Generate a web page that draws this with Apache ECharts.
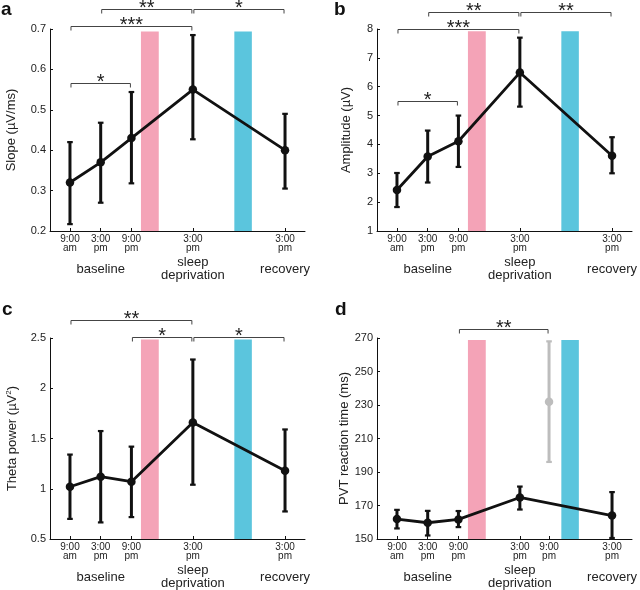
<!DOCTYPE html>
<html><head><meta charset="utf-8">
<script src="https://cdn.jsdelivr.net/npm/echarts@6/dist/echarts.min.js"></script>
<style>html,body{margin:0;padding:0;background:#fff}#c{width:640px;height:590px}</style>
</head><body><div id="c"></div>
<script>
// ---- data ----
const positions = [1, 2, 3, 5, 8];
const tickLabels = ['9:00\nam', '3:00\npm', '9:00\npm', '3:00\npm', '3:00\npm'];
const tickPosD = [1, 2, 3, 5, 5.95, 8];
const tickLabelsD = ['9:00\nam', '3:00\npm', '9:00\npm', '3:00\npm', '9:00\npm', '3:00\npm'];
const groupPos = [2, 5, 8];
const groupLabels = ['baseline', 'sleep\ndeprivation', 'recovery'];
const pinkBand = [3.31, 3.89];
const cyanBand = [6.35, 6.92];

const slopeMean = [0.32, 0.37, 0.43, 0.55, 0.40];
const slopeLow  = [0.217, 0.27, 0.318, 0.427, 0.305];
const slopeHigh = [0.42, 0.468, 0.544, 0.685, 0.49];

const ampMean = [2.42, 3.58, 4.11, 6.49, 3.61];
const ampLow  = [1.83, 2.68, 3.22, 5.31, 3.0];
const ampHigh = [3.01, 4.48, 5.0, 7.70, 4.25];

const thetaMean = [1.02, 1.12, 1.07, 1.66, 1.18];
const thetaLow  = [0.70, 0.665, 0.718, 1.04, 0.774];
const thetaHigh = [1.34, 1.574, 1.419, 2.286, 1.59];

const pvtMean = [161.9, 159.7, 161.7, 174.8, 164.0];
const pvtLow  = [156.3, 152.1, 157.1, 167.6, 150.6];
const pvtHigh = [167.4, 166.8, 166.7, 181.3, 178.0];
const pvtGrayPos = [5.95];
const pvtGrayMean = [231.9];
const pvtGrayLow  = [196.0];
const pvtGrayHigh = [268.0];

// brackets: [x1, x2, y, stars]
const bracketsA = [[2, 5, 0.75, '**'], [5, 8, 0.75, '*'], [1, 5, 0.7085, '***'], [1, 3, 0.566, '*']];
const bracketsB = [[2, 5, 8.58, '**'], [5, 8, 8.58, '**'], [1, 5, 7.99, '***'], [1, 3, 5.5, '*']];
const bracketsC = [[1, 5, 2.683, '**'], [3, 5, 2.51, '*'], [5, 8, 2.51, '*']];
const bracketsD = [[3, 5.95, 275.2, '**']];

const bandTops = [0.694, 7.92, 2.484, 268.8];

// ---- chart ----
const FONT = 'Liberation Sans, Arial, sans-serif';
const TXT = '#222';
const chart = echarts.init(document.getElementById('c'));

const grids = [
  {left: 50, top: 29, width: 255, height: 202},
  {left: 377, top: 29, width: 255, height: 202},
  {left: 50, top: 338, width: 255, height: 201},
  {left: 377, top: 338, width: 255, height: 201}
];
const yCfg = [
  {min: 0.2, max: 0.7, interval: 0.1, name: 'Slope (µV/ms)', gap: 32},
  {min: 1, max: 8, interval: 1, name: 'Amplitude (µV)', gap: 24},
  {min: 0.5, max: 2.5, interval: 0.5, name: 'Theta power (µV{sup|2})', gap: 31},
  {min: 150, max: 270, interval: 20, name: 'PVT reaction time (ms)', gap: 26}
];

const xAxes = [], yAxes = [], series = [];
for (let i = 0; i < 4; i++) {
  const tp = i === 3 ? tickPosD : positions;
  const tl = i === 3 ? tickLabelsD : tickLabels;
  xAxes.push({
    gridIndex: i, type: 'value', min: 0.35, max: 8.65, position: 'bottom',
    axisLine: {onZero: false, lineStyle: {color: '#111', width: 1}},
    axisTick: {inside: true, length: 3, customValues: tp, lineStyle: {color: '#111'}},
    axisLabel: {customValues: tp, formatter: v => tl[tp.indexOf(v)], fontSize: 10, lineHeight: 9,
      color: TXT, margin: 4, fontFamily: FONT},
    splitLine: {show: false}
  });
  xAxes.push({
    gridIndex: i, type: 'value', min: 0.35, max: 8.65, position: 'bottom',
    axisLine: {show: false, onZero: false}, axisTick: {show: false}, splitLine: {show: false},
    axisLabel: {customValues: groupPos, formatter: v => groupLabels[groupPos.indexOf(v)],
      fontSize: 13, lineHeight: 13, verticalAlign: 'middle', margin: 38, color: TXT, fontFamily: FONT}
  });
  const yc = yCfg[i];
  yAxes.push({
    gridIndex: i, type: 'value', min: yc.min, max: yc.max, interval: yc.interval,
    axisLine: {show: true, onZero: false, lineStyle: {color: '#111', width: 1}},
    axisTick: {show: true, inside: true, length: 3, lineStyle: {color: '#111'}},
    axisLabel: {fontSize: 11, color: TXT, margin: 4, fontFamily: FONT},
    splitLine: {show: false},
    name: yc.name, nameLocation: 'middle', nameGap: yc.gap,
    nameTextStyle: {fontSize: 13, color: TXT, fontFamily: FONT,
      rich: {sup: {fontSize: 8, verticalAlign: 'top', padding: [0, 0, 6, 0], color: TXT, fontFamily: FONT}}}
  });
}

function bandSeries(i) {
  const yMin = yCfg[i].min;
  const data = [[pinkBand[0], pinkBand[1], yMin, bandTops[i], 0], [cyanBand[0], cyanBand[1], yMin, bandTops[i], 1]];
  const cols = ['#f4a3b7', '#5bc5dd'];
  return {
    type: 'custom', xAxisIndex: i * 2, yAxisIndex: i, z: 1, silent: true,
    encode: {x: [0, 1], y: [2, 3]},
    data: data,
    renderItem: (p, api) => {
      const a = api.coord([api.value(0), api.value(3)]);
      const b = api.coord([api.value(1), api.value(2)]);
      return {type: 'rect', shape: {x: a[0], y: a[1], width: b[0] - a[0], height: b[1] - a[1]},
        style: {fill: cols[api.value(4)]}};
    }
  };
}

function errSeries(i, xs, lo, hi, color, z) {
  return {
    type: 'custom', xAxisIndex: i * 2, yAxisIndex: i, z: z, silent: true,
    encode: {x: 0, y: [1, 2]},
    data: xs.map((x, k) => [x, lo[k], hi[k]]),
    renderItem: (p, api) => {
      const x = api.value(0);
      const p1 = api.coord([x, api.value(1)]);
      const p2 = api.coord([x, api.value(2)]);
      const cw = 2.8;
      return {type: 'group', children: [
        {type: 'line', shape: {x1: p1[0], y1: p1[1], x2: p2[0], y2: p2[1]}, style: {stroke: color, lineWidth: 3}},
        {type: 'line', shape: {x1: p1[0] - cw, y1: p1[1], x2: p1[0] + cw, y2: p1[1]}, style: {stroke: color, lineWidth: 2.2}},
        {type: 'line', shape: {x1: p2[0] - cw, y1: p2[1], x2: p2[0] + cw, y2: p2[1]}, style: {stroke: color, lineWidth: 2.2}}
      ]};
    }
  };
}

function lineSeries(i, xs, ys, color, showLine) {
  return {
    type: 'line', xAxisIndex: i * 2, yAxisIndex: i, z: 4, silent: true,
    data: xs.map((x, k) => [x, ys[k]]),
    symbol: 'circle', symbolSize: 8.5, showSymbol: true,
    itemStyle: {color: color},
    lineStyle: {color: color, width: showLine ? 2.8 : 0, opacity: showLine ? 1 : 0},
    animation: false
  };
}

function bracketSeries(i, br) {
  return {
    type: 'custom', xAxisIndex: i * 2, yAxisIndex: i, z: 5, silent: true, clip: false,
    encode: {x: [0, 1], y: 2},
    data: br.map(b => [b[0], b[1], b[2]]),
    renderItem: (p, api) => {
      const a = api.coord([api.value(0), api.value(2)]);
      const b = api.coord([api.value(1), api.value(2)]);
      const x1 = a[0] + 1, x2 = b[0] - 1, y = Math.round(a[1]) + 0.5, t = 4;
      return {type: 'group', children: [
        {type: 'polyline', shape: {points: [[x1, y + t], [x1, y], [x2, y], [x2, y + t]]},
          style: {stroke: '#444', lineWidth: 1, fill: null}},
        {type: 'text', x: (x1 + x2) / 2, y: y + 9,
          style: {text: br[p.dataIndex][3], fontSize: 20, fontFamily: FONT, fill: '#222',
            align: 'center', verticalAlign: 'bottom'}}
      ]};
    }
  };
}

const panels = [
  [slopeMean, slopeLow, slopeHigh, bracketsA],
  [ampMean, ampLow, ampHigh, bracketsB],
  [thetaMean, thetaLow, thetaHigh, bracketsC],
  [pvtMean, pvtLow, pvtHigh, bracketsD]
];
panels.forEach((pn, i) => {
  series.push(bandSeries(i));
  series.push(errSeries(i, positions, pn[1], pn[2], '#111', 3));
  series.push(lineSeries(i, positions, pn[0], '#111', true));
  series.push(bracketSeries(i, pn[3]));
});
series.push(errSeries(3, pvtGrayPos, pvtGrayLow, pvtGrayHigh, '#bdbdbd', 3));
series.push(lineSeries(3, pvtGrayPos, pvtGrayMean, '#bdbdbd', false));

const letters = [['a', 1, 0], ['b', 334, 0], ['c', 2, 300], ['d', 335, 300]];
chart.setOption({
  animation: false,
  grid: grids,
  xAxis: xAxes,
  yAxis: yAxes,
  series: series,
  graphic: letters.map(l => ({type: 'text', left: l[1], top: l[2],
    style: {text: l[0], fontSize: 19, fontWeight: 'bold', fontFamily: FONT, fill: '#111'}}))
});
</script>
</body></html>
